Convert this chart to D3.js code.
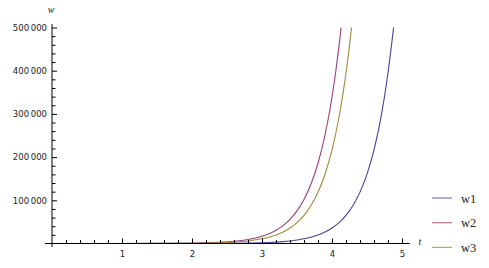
<!DOCTYPE html>
<html lang="en">
<head>
<meta charset="utf-8">
<title>w1 w2 w3</title>
<script src="https://d3js.org/d3.v7.min.js"></script>
<style>
  body { margin: 0; background: #fff; }
  .tick text { font-family: "DejaVu Sans", sans-serif; font-size: 8.5px; fill: #222; }
  .lbl { font-family: "Liberation Serif", serif; font-style: italic; font-size: 10px; fill: #222; }
  .legend text { font-family: "Liberation Serif", serif; font-size: 12.5px; fill: #222; }
</style>
</head>
<body>
<script>
// values
var names = ["w1", "w2", "w3"];
var colors = ["#45459c", "#9a4276", "#9c8c3e"];

var tW1 = [0, 1, 2, 2.6, 2.8, 3, 3.1, 3.2, 3.3, 3.4, 3.5, 3.6, 3.7, 3.8, 3.9, 4.0, 4.1, 4.2, 4.3, 4.4, 4.5, 4.6, 4.7, 4.8, 4.88];
var w1  = [0, 4, 90, 540, 980, 1780, 2410, 3250, 4380, 5900, 8000, 10800, 14600, 19700, 26500, 35800, 48300, 65200, 88100, 118900, 160500, 216600, 292400, 394700, 500000];

var tW2 = [0, 1, 2, 2.5, 2.6, 2.8, 3, 3.1, 3.2, 3.3, 3.4, 3.5, 3.6, 3.7, 3.8, 3.9, 4.0, 4.1, 4.13];
var w2  = [2, 42, 840, 3760, 5080, 9250, 16850, 22750, 30700, 41450, 55960, 75500, 102000, 137600, 185800, 250800, 338500, 457000, 500000];

var tW3 = [0, 1, 2, 2.5, 2.6, 2.8, 3, 3.1, 3.2, 3.3, 3.4, 3.5, 3.6, 3.7, 3.8, 3.9, 4.0, 4.1, 4.2, 4.28];
var w3  = [1, 27, 540, 2400, 3250, 5910, 10800, 14550, 19640, 26510, 35780, 48300, 65200, 88000, 118800, 160400, 216500, 292200, 394400, 500000];

var xMajor = [1, 2, 3, 4, 5];
var yMajor = [100000, 200000, 300000, 400000, 500000];

var width = 489, height = 268;

var svg = d3.select("body").append("svg")
  .attr("width", width)
  .attr("height", height);

var x = d3.scaleLinear().domain([0, 5]).range([52, 402]);
var y = d3.scaleLinear().domain([0, 500000]).range([243.5, 27.5]);

var xMinor = d3.range(1, 25).map(function(i) { return i / 5; })
  .filter(function(v) { return Math.abs(v - Math.round(v)) > 1e-6; });
var yMinor = d3.range(1, 25).map(function(i) { return i * 20000; })
  .filter(function(v) { return v % 100000 != 0; });

var fmt = function(v) { return d3.format(",")(v).replace(",", "\u2009"); };

// curves
var series = [[tW1, w1], [tW2, w2], [tW3, w3]];
var line = d3.line()
  .x(function(d) { return x(d[0]); })
  .y(function(d) { return y(d[1]); })
  .curve(d3.curveMonotoneX);

svg.append("g")
  .selectAll("path")
  .data(series)
  .enter().append("path")
  .attr("fill", "none")
  .attr("stroke", function(d, i) { return colors[i]; })
  .attr("stroke-width", 1.1)
  .attr("d", function(d) { return line(d[0].map(function(t, j) { return [t, d[1][j]]; })); });

// x axis
var gx = svg.append("g").attr("transform", "translate(0," + y(0) + ")");
gx.call(d3.axisBottom(x).tickValues(xMajor).tickSize(-5).tickPadding(7).tickFormat(d3.format("d")))
  .select(".domain").remove();
gx.append("g").call(d3.axisBottom(x).tickValues(xMinor).tickSize(-3.5).tickFormat(""))
  .select(".domain").remove();
gx.append("line")
  .attr("x1", x(-0.1)).attr("x2", x(5.11))
  .attr("stroke", "#000");

// y axis
var gy = svg.append("g").attr("transform", "translate(" + x(0) + ",0)");
gy.call(d3.axisLeft(y).tickValues(yMajor).tickSize(-5).tickPadding(5).tickFormat(fmt))
  .select(".domain").remove();
gy.append("g").call(d3.axisLeft(y).tickValues(yMinor).tickSize(-3.5).tickFormat(""))
  .select(".domain").remove();
gy.append("line")
  .attr("y1", y(-8000)).attr("y2", y(508000))
  .attr("stroke", "#000");

svg.selectAll(".tick line").attr("stroke", "#000");

// axis labels
svg.append("text").attr("class", "lbl")
  .attr("x", x(0) - 1).attr("y", 13)
  .attr("text-anchor", "middle").text("w");
svg.append("text").attr("class", "lbl")
  .attr("x", 420).attr("y", y(0) + 1)
  .attr("text-anchor", "middle").text("t");

// legend
var legend = svg.append("g").attr("class", "legend")
  .selectAll("g")
  .data(names)
  .enter().append("g")
  .attr("transform", function(d, i) { return "translate(432," + (198 + i * 24.7) + ")"; });

legend.append("line")
  .attr("x1", 0).attr("x2", 20)
  .attr("stroke", function(d, i) { return colors[i]; })
  .attr("stroke-opacity", 0.75)
  .attr("stroke-width", 1.2);

legend.append("text")
  .attr("x", 29).attr("y", 4.5)
  .text(function(d) { return d; });
</script>
</body>
</html>
